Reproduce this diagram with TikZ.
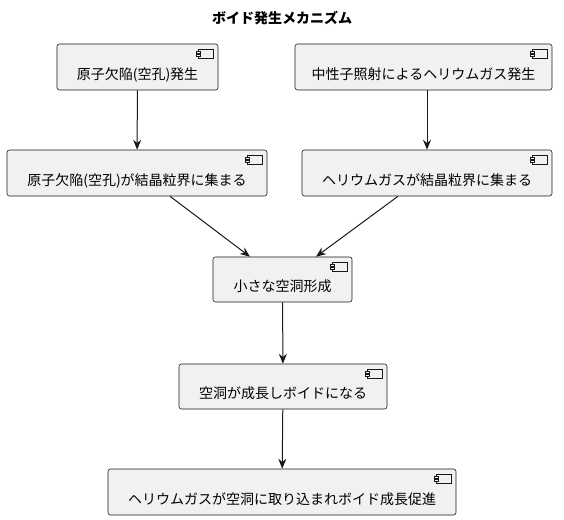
\documentclass[tikz,border=0pt]{standalone}
\usepackage{fontspec}
\setmainfont{Noto Sans CJK JP}
\usepackage{xcolor}
\usetikzlibrary{arrows.meta}
\definecolor{boxfill}{HTML}{F1F1F1}
\definecolor{linecol}{HTML}{181818}

\begin{document}
\begin{tikzpicture}[x=0.75pt,y=-0.75pt]
		\useasboundingbox (0,0) rectangle (564,520);
		\tikzstyle{comp}=[draw=linecol,fill=boxfill,line width=0.4pt,rounded corners=1.8pt,font=\fontsize{10.5pt}{12pt}\selectfont,text height=20pt,text depth=1.9pt,minimum height=34.5pt,inner sep=0pt]
		\tikzstyle{flow}=[draw=linecol,line width=0.75pt,-{Stealth[length=7.5pt,width=6pt,inset=2.5pt]}]
		\tikzstyle{icon}=[draw=linecol,line width=0.4pt,fill=boxfill]
		\node[font=\fontsize{10.5pt}{12pt}\selectfont\bfseries] (title) at (282,18) {ボイド発生メカニズム};
		\node[comp,minimum width=120.75pt] (a) at (137.5,67) {原子欠陥(空孔)発生};
		\node[comp,minimum width=192.75pt] (b) at (423.5,67) {中性子照射によるヘリウムガス発生};
		\node[comp,minimum width=195pt] (c) at (137,173) {原子欠陥(空孔)が結晶粒界に集まる};
		\node[comp,minimum width=187.5pt] (d) at (427,173) {ヘリウムガスが結晶粒界に集まる};
		\node[comp,minimum width=104.25pt,minimum height=33.75pt] (e) at (282.5,279.5) {小さな空洞形成};
		\node[comp,minimum width=156pt,minimum height=33.75pt] (f) at (283,386.5) {空洞が成長しボイドになる};
		\node[comp,minimum width=261pt] (g) at (282,492) {ヘリウムガスが空洞に取り込まれボイド成長促進};
		% component icons
		\foreach \n in {a,b,c,d,e,f,g} {
			\begin{scope}[shift={(\n.north east)}]
				\draw[icon] (-20,6) rectangle (-5,15);
				\draw[icon] (-22,8) rectangle (-18,10);
				\draw[icon] (-22,11) rectangle (-18,13);
			\end{scope}
		}
		\draw[flow] (a) -- (c);
		\draw[flow] (b.south -| d) -- (d);
		\draw[flow] ([xshift=24.75pt]c.south) -- ([xshift=-24.4pt]e.north);
		\draw[flow] ([xshift=-21.75pt]d.south) -- ([xshift=25.1pt]e.north);
		\draw[flow] (e) -- (f);
		\draw[flow] (f) -- (g);
\end{tikzpicture}
\end{document}
